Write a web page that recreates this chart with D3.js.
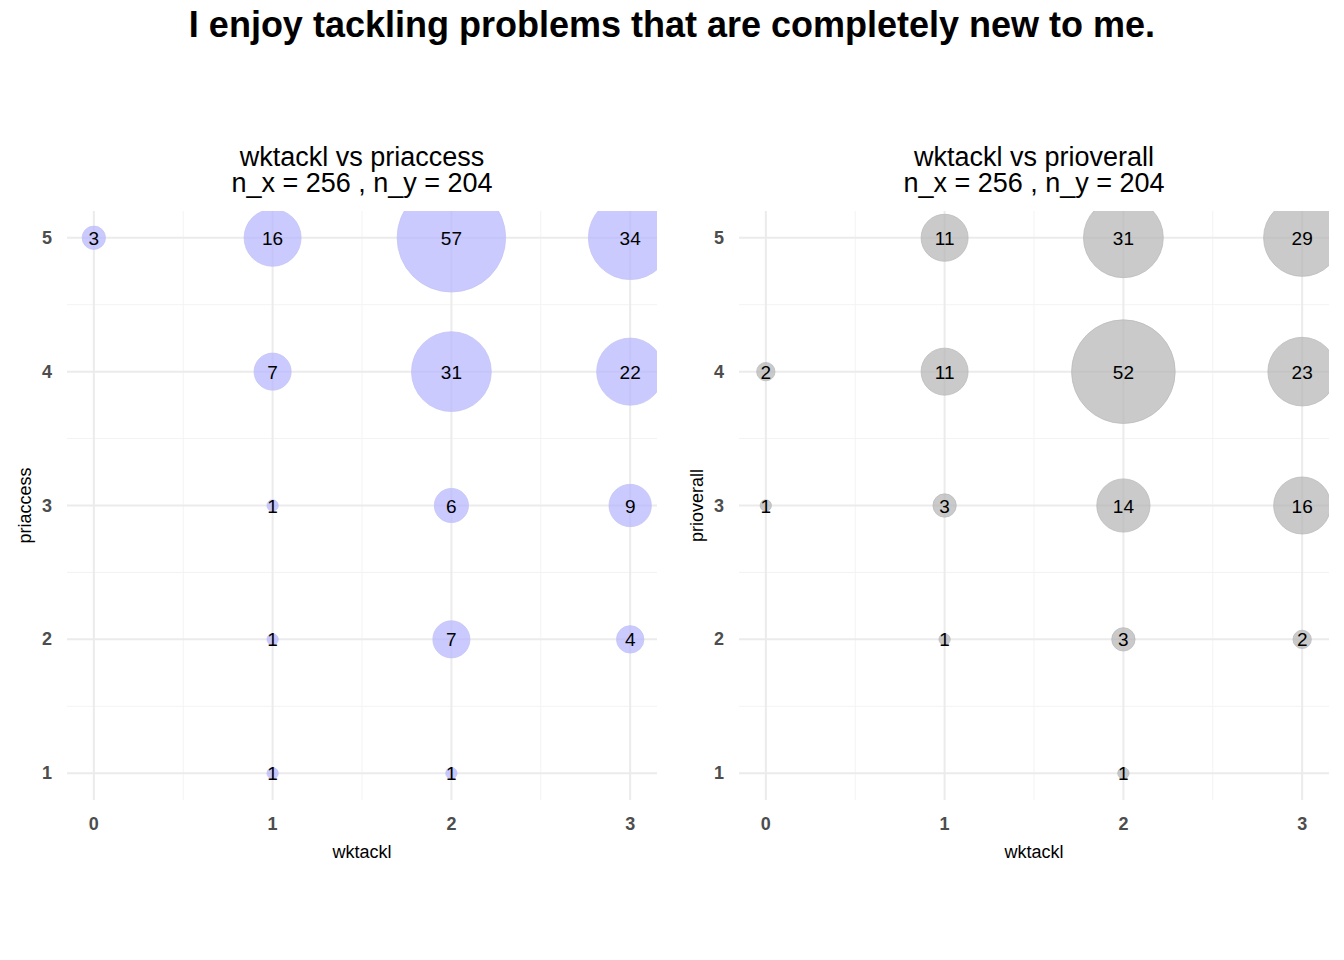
<!DOCTYPE html>
<html><head><meta charset="utf-8">
<script src="https://cdn.jsdelivr.net/npm/d3@7"></script>
<style>body{margin:0;background:#fff}</style>
</head><body>
<script>
var W = 1344, H = 960;
var leftX = [0,1,2,3,1,2,3,1,2,3,1,2,3,1,2];
var leftY = [5,5,5,5,4,4,4,3,3,3,2,2,2,1,1];
var leftN = [3,16,57,34,7,31,22,1,6,9,1,7,4,1,1];
var rightX = [1,2,3,0,1,2,3,0,1,2,3,1,2,3,2];
var rightY = [5,5,5,4,4,4,4,3,3,3,3,2,2,2,1];
var rightN = [11,31,29,2,11,52,23,1,3,14,16,1,3,2,1];
var xTicks = [0,1,2,3];
var yTicks = [1,2,3,4,5];

var svg = d3.select("body").append("svg").attr("width", W).attr("height", H)
  .style("font-family", "Liberation Sans, Arial, sans-serif");

svg.append("text").attr("x", 672).attr("y", 37).attr("text-anchor", "middle")
  .attr("font-size", 36).attr("font-weight", "bold")
  .text("I enjoy tackling problems that are completely new to me.");

function panel(x0, x1, xs, ys, ns, title, ylab, fill, stroke, id) {
  var top = 211, bot = 800;
  var x = d3.scaleLinear().domain([-0.15, 3.15]).range([x0, x1]);
  var y = d3.scaleLinear().domain([0.8, 5.2]).range([bot, top]);
  var g = svg.append("g");
  g.append("clipPath").attr("id", id).append("rect")
    .attr("x", x0).attr("y", top).attr("width", x1 - x0).attr("height", bot - top);
  [0.5,1.5,2.5].forEach(function(v){
    g.append("line").attr("x1", x(v)).attr("x2", x(v)).attr("y1", top).attr("y2", bot)
      .attr("stroke", "#f3f3f3").attr("stroke-width", 1);
  });
  [1.5,2.5,3.5,4.5].forEach(function(v){
    g.append("line").attr("y1", y(v)).attr("y2", y(v)).attr("x1", x0).attr("x2", x1)
      .attr("stroke", "#f3f3f3").attr("stroke-width", 1);
  });
  xTicks.forEach(function(v){
    g.append("line").attr("x1", x(v)).attr("x2", x(v)).attr("y1", top).attr("y2", bot)
      .attr("stroke", "#ebebeb").attr("stroke-width", 2);
    g.append("text").attr("x", x(v)).attr("y", 830).attr("text-anchor", "middle")
      .attr("font-size", 18).attr("font-weight", "bold").attr("fill", "#4d4d4d").text(v);
  });
  yTicks.forEach(function(v){
    g.append("line").attr("y1", y(v)).attr("y2", y(v)).attr("x1", x0).attr("x2", x1)
      .attr("stroke", "#ebebeb").attr("stroke-width", 2);
    g.append("text").attr("x", x0 - 15).attr("y", y(v) + 6).attr("text-anchor", "end")
      .attr("font-size", 18).attr("font-weight", "bold").attr("fill", "#4d4d4d").text(v);
  });
  var idx = d3.range(ns.length);
  g.append("g").attr("clip-path", "url(#" + id + ")").selectAll("circle").data(idx).enter()
    .append("circle")
    .attr("cx", function(i){ return x(xs[i]); })
    .attr("cy", function(i){ return y(ys[i]); })
    .attr("r", function(i){ return Math.sqrt(Math.max(8, 52 * ns[i] - 20)); })
    .attr("fill", fill).attr("stroke", stroke).attr("stroke-width", 0.8);
  g.selectAll("text.lab").data(idx).enter().append("text").attr("class", "lab")
    .attr("x", function(i){ return x(xs[i]); })
    .attr("y", function(i){ return y(ys[i]) + 7; })
    .attr("text-anchor", "middle").attr("font-size", 19).attr("fill", "#000")
    .text(function(i){ return ns[i]; });
  var cx = (x0 + x1) / 2;
  g.append("text").attr("x", cx).attr("y", 166).attr("text-anchor", "middle")
    .attr("font-size", 27).text(title);
  g.append("text").attr("x", cx).attr("y", 192).attr("text-anchor", "middle")
    .attr("font-size", 27).text("n_x = 256 , n_y = 204");
  g.append("text").attr("x", cx).attr("y", 858).attr("text-anchor", "middle")
    .attr("font-size", 18).text("wktackl");
  g.append("text").attr("transform", "translate(" + (x0 - 36) + "," + ((top + bot) / 2) + ") rotate(-90)")
    .attr("text-anchor", "middle").attr("font-size", 18).text(ylab);
}

panel(67, 657, leftX, leftY, leftN, "wktackl vs priaccess", "priaccess", "rgba(180,180,255,0.7)", "#c4c4f4", "c1");
panel(739, 1329, rightX, rightY, rightN, "wktackl vs prioverall", "prioverall", "rgba(180,180,180,0.7)", "#bbbbbb", "c2");
</script>
</body></html>
